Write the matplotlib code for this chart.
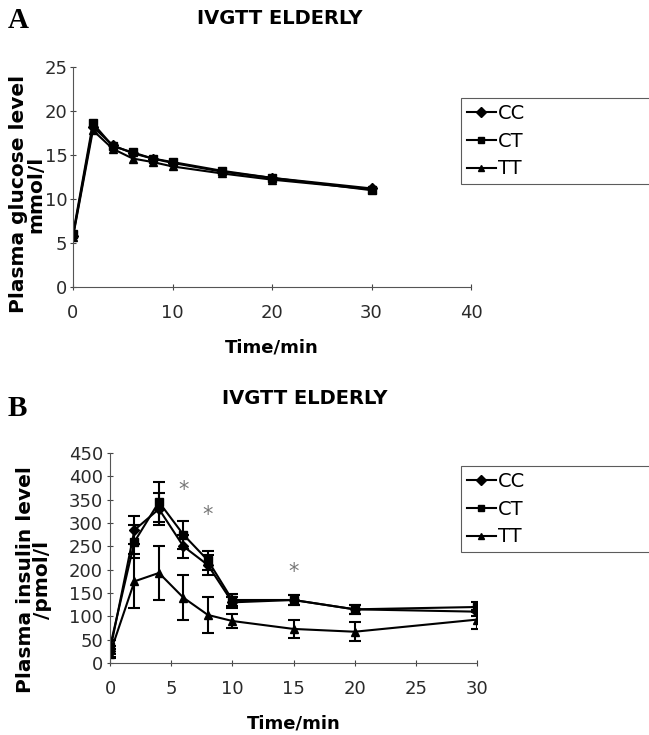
import matplotlib
matplotlib.use("Agg")
import matplotlib.pyplot as plt

time = [0, 2, 4, 6, 8, 10, 15, 20, 30]
groups = ["CC", "CT", "TT"]
markers = ["D", "s", "^"]

glucose_cc = [5.8, 18.2, 16.1, 15.2, 14.6, 14.1, 13.1, 12.4, 11.2]
glucose_ct = [6.0, 18.6, 16.0, 15.3, 14.6, 14.2, 13.2, 12.4, 11.0]
glucose_tt = [5.7, 17.8, 15.7, 14.6, 14.2, 13.7, 12.9, 12.2, 11.1]

insulin_cc = [25, 285, 330, 250, 210, 130, 135, 115, 110]
insulin_ct = [35, 260, 345, 275, 220, 135, 135, 115, 120]
insulin_tt = [20, 175, 193, 140, 103, 90, 73, 67, 93]
insulin_cc_err = [12, 30, 35, 25, 22, 12, 10, 10, 10]
insulin_ct_err = [15, 35, 42, 30, 20, 12, 10, 10, 10]
insulin_tt_err = [10, 58, 58, 48, 38, 15, 20, 20, 20]

star_x = [6, 8, 15]
star_y = [370, 318, 195]

fig = plt.figure(figsize=(6.49, 7.35), dpi=100)
W, H = 649, 735

def ax_rect(l, t, r, b):
    return [l / W, 1 - b / H, (r - l) / W, (b - t) / H]

tick_kw = dict(labelsize=13, colors="#444444", labelcolor="#2a2a2a", length=4, width=0.8)
leg_kw = dict(frameon=True, fancybox=False, edgecolor="#333333", fontsize=14,
              handlelength=1.5, handletextpad=0.1, borderpad=0.3, labelspacing=0.45,
              borderaxespad=0, markerscale=0.9, mode="expand")

def leg_anchor(ax_l, ax_t, ax_r, ax_b, l, t):
    w = ax_r - ax_l
    h = ax_b - ax_t
    x0 = (l - ax_l) / w
    y1 = 1 - (t - ax_t) / h
    return (x0, y1 - 0.01, (700 - l) / w, 0.01)

# Panel A
axA = fig.add_axes(ax_rect(73, 67, 471, 287))
for vals, m, g in zip([glucose_cc, glucose_ct, glucose_tt], markers, groups):
    axA.plot(time, vals, color="black", marker=m, markersize=5.5, linewidth=1.5, label=g)
axA.set_xlim(0, 40)
axA.set_ylim(0, 25)
axA.set_xticks([0, 10, 20, 30, 40])
axA.set_yticks([0, 5, 10, 15, 20, 25])
axA.tick_params(axis="both", direction="inout", **tick_kw)
axA.tick_params(axis="x", pad=10)
axA.tick_params(axis="y", pad=2)
for s in ["top", "right"]:
    axA.spines[s].set_visible(False)
for s in ["left", "bottom"]:
    axA.spines[s].set_color("#555555")
    axA.spines[s].set_linewidth(0.8)
axA.set_xlabel("Time/min", fontsize=13, fontweight="bold", labelpad=12)
axA.set_ylabel("Plasma glucose level\nmmol/l", fontsize=14.5, fontweight="bold", linespacing=0.85)
axA.yaxis.set_label_coords((45 - 73) / 398, (287 - 194) / 220)
legA = axA.legend(loc="upper left", bbox_to_anchor=leg_anchor(73, 67, 471, 287, 461, 98), **leg_kw)
legA.get_frame().set_linewidth(0.8)
fig.text(8 / W, 1 - 20 / H, "A", fontsize=21, fontweight="bold", family="Liberation Serif", va="center")
fig.text(280 / W, 1 - 19 / H, "IVGTT ELDERLY", fontsize=14, fontweight="bold", ha="center", va="center")

# Panel B
axB = fig.add_axes(ax_rect(110, 453, 477, 663))
lines_b = []
for vals, errs, m, g in zip([insulin_cc, insulin_ct, insulin_tt],
                            [insulin_cc_err, insulin_ct_err, insulin_tt_err], markers, groups):
    c = axB.errorbar(time, vals, yerr=errs, color="black", marker=m, markersize=5.5, linewidth=1.5,
                     elinewidth=1.5, capsize=4, capthick=1.5, label=g)
    lines_b.append(c[0])
for x, y in zip(star_x, star_y):
    axB.text(x, y, "*", fontsize=15, color="#777777", ha="center", va="center")
axB.set_xlim(0, 30)
axB.set_ylim(0, 450)
axB.set_xticks([0, 5, 10, 15, 20, 25, 30])
axB.set_yticks(list(range(0, 451, 50)))
axB.tick_params(axis="both", direction="inout", **tick_kw)
axB.tick_params(axis="x", pad=10)
axB.tick_params(axis="y", pad=3)
for s in ["top", "right"]:
    axB.spines[s].set_visible(False)
for s in ["left", "bottom"]:
    axB.spines[s].set_color("#555555")
    axB.spines[s].set_linewidth(0.8)
axB.set_xlabel("Time/min", fontsize=13, fontweight="bold", labelpad=12)
axB.set_ylabel("Plasma insulin level\n/pmol/l", fontsize=14.5, fontweight="bold", linespacing=0.85)
axB.yaxis.set_label_coords((52 - 110) / 367, (663 - 580) / 210)
legB = axB.legend(lines_b, groups, loc="upper left",
                  bbox_to_anchor=leg_anchor(110, 453, 477, 663, 461, 466), **leg_kw)
legB.get_frame().set_linewidth(0.8)
fig.text(8 / W, 1 - 408 / H, "B", fontsize=21, fontweight="bold", family="Liberation Serif", va="center")
fig.text(305 / W, 1 - 398 / H, "IVGTT ELDERLY", fontsize=14, fontweight="bold", ha="center", va="center")

fig.savefig("out.png", dpi=100)
